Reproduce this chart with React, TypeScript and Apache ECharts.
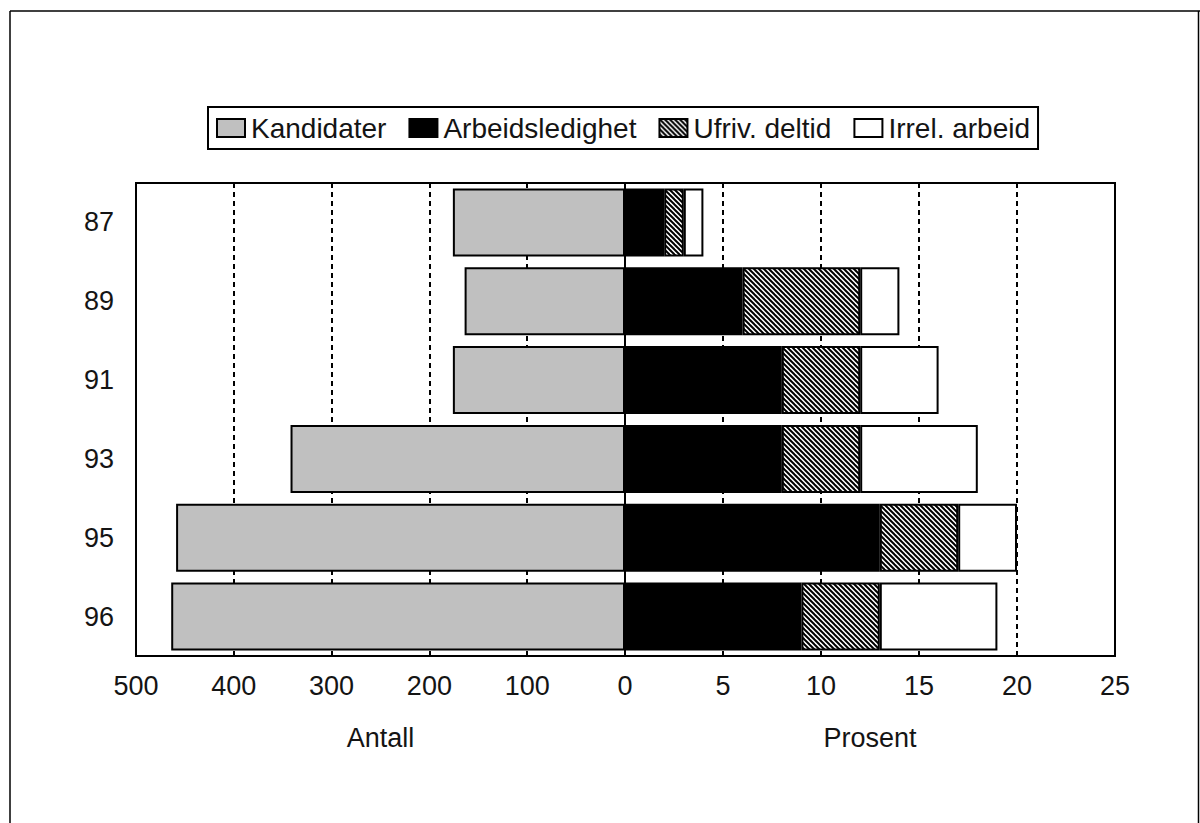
import React, { useEffect, useRef } from 'react';
import * as echarts from 'echarts';

const years = ['87', '89', '91', '93', '95', '96'];
const kandidater = [176, 164, 176, 342, 459, 464];
const arbeidsledighet = [2, 6, 8, 8, 13, 9];
const ufrivDeltid = [1, 6, 4, 4, 4, 4];
const irrelArbeid = [1, 2, 4, 6, 3, 6];
const seriesNames = ['Kandidater', 'Arbeidsledighet', 'Ufriv. deltid', 'Irrel. arbeid'];
const antallMax = 500;
const antallStep = 100;
const prosentMax = 25;
const prosentStep = 5;

const FONT = "'Liberation Sans', Arial, sans-serif";
const TXT = '#141414';

function makeHatch(): HTMLCanvasElement {
  const c = document.createElement('canvas');
  const s = 5;
  c.width = s;
  c.height = s;
  const ctx = c.getContext('2d')!;
  ctx.fillStyle = '#fff';
  ctx.fillRect(0, 0, s, s);
  ctx.strokeStyle = '#000';
  ctx.lineWidth = 2;
  for (let k = -1; k <= 1; k++) {
    ctx.beginPath();
    ctx.moveTo(k * s - 1, -1);
    ctx.lineTo(k * s + s + 1, s + 1);
    ctx.stroke();
  }
  return c;
}

export default function App() {
  const ref = useRef<HTMLDivElement>(null);
  useEffect(() => {
    if (!ref.current) return;
    const chart = echarts.init(ref.current, undefined, { renderer: 'svg' });
    const hatch = makeHatch();
    const hatchPattern: any = { image: hatch.toDataURL(), repeat: 'repeat', imageWidth: 5, imageHeight: 5 };
    const gridTop = 183;
    const gridHeight = 473;
    const splitLine = { show: true, lineStyle: { color: '#000', width: 2, type: [5, 4] as any } };
    const axisLabel = { color: TXT, fontSize: 27, fontFamily: FONT, margin: 16 };
    const nameStyle = { color: TXT, fontSize: 27, fontFamily: FONT };
    const border = { borderColor: '#000', borderWidth: 2 };
    chart.setOption({
      animation: false,
      backgroundColor: '#fff',
      textStyle: { fontFamily: FONT },
      legend: {
        data: seriesNames,
        left: 208,
        top: 107,
        orient: 'horizontal',
        itemWidth: 28,
        itemHeight: 18,
        itemGap: 22,
        padding: [5, 8],
        borderColor: '#000',
        borderWidth: 2,
        icon: 'rect',
        textStyle: { color: TXT, fontSize: 28, fontFamily: FONT, lineHeight: 32, padding: [0, 0, 0, 1] },
      },
      grid: [
        { left: 136, width: 489, top: gridTop, height: gridHeight, show: true, borderColor: '#000', borderWidth: 2 },
        { left: 625, width: 490, top: gridTop, height: gridHeight, show: true, borderColor: '#000', borderWidth: 2 },
      ],
      xAxis: [
        {
          gridIndex: 0, type: 'value', inverse: true, min: 0, max: antallMax, interval: antallStep,
          axisLine: { show: false }, axisTick: { show: false }, splitLine, axisLabel,
          name: 'Antall', nameLocation: 'middle', nameGap: 68, nameTextStyle: nameStyle,
        },
        {
          gridIndex: 1, type: 'value', min: 0, max: prosentMax, interval: prosentStep,
          axisLine: { show: false }, axisTick: { show: false }, splitLine,
          axisLabel: { ...axisLabel, formatter: (v: number) => (v === 0 ? '' : String(v)) },
          name: 'Prosent', nameLocation: 'middle', nameGap: 68, nameTextStyle: nameStyle,
        },
      ],
      yAxis: [
        {
          gridIndex: 0, type: 'category', data: years, inverse: true,
          axisLine: { show: false }, axisTick: { show: false }, splitLine: { show: false },
          axisLabel: { color: TXT, fontSize: 27, fontFamily: FONT, margin: 22 },
        },
        {
          gridIndex: 1, type: 'category', data: years, inverse: true,
          axisLine: { show: true, onZero: false, lineStyle: { color: '#000', width: 2 } },
          axisTick: { show: false }, splitLine: { show: false }, axisLabel: { show: false },
        },
      ],
      series: [
        {
          name: seriesNames[0], type: 'bar', xAxisIndex: 0, yAxisIndex: 0, data: kandidater,
          barWidth: 68, itemStyle: { color: '#c0c0c0', ...border },
        },
        {
          name: seriesNames[1], type: 'bar', xAxisIndex: 1, yAxisIndex: 1, stack: 'p', data: arbeidsledighet,
          barWidth: 68, itemStyle: { color: '#000', ...border },
        },
        {
          name: seriesNames[2], type: 'bar', xAxisIndex: 1, yAxisIndex: 1, stack: 'p', data: ufrivDeltid,
          barWidth: 68, itemStyle: { color: hatchPattern, ...border },
        },
        {
          name: seriesNames[3], type: 'bar', xAxisIndex: 1, yAxisIndex: 1, stack: 'p', data: irrelArbeid,
          barWidth: 68, itemStyle: { color: '#fff', ...border },
        },
      ],
      graphic: [
        { type: 'line', shape: { x1: 10, y1: 11, x2: 1200, y2: 11 }, style: { stroke: '#000', lineWidth: 1.5 } },
        { type: 'line', shape: { x1: 10, y1: 11, x2: 10, y2: 823 }, style: { stroke: '#000', lineWidth: 1.5 } },
        { type: 'line', shape: { x1: 1198.5, y1: 11, x2: 1198.5, y2: 823 }, style: { stroke: '#000', lineWidth: 1.5 } },
      ],
    });
    return () => chart.dispose();
  }, []);
  return <div ref={ref} style={{ position: 'fixed', left: 0, top: 0, width: 1200, height: 823 }} />;
}
